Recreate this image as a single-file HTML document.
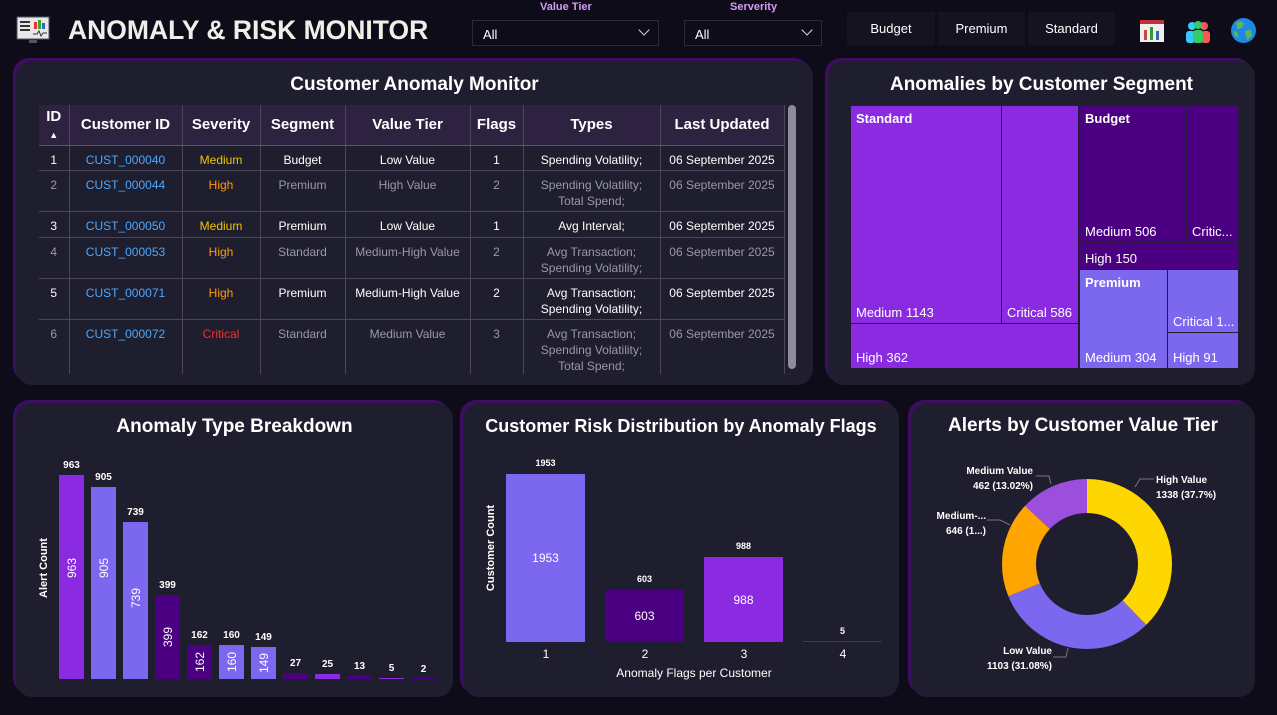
<!DOCTYPE html>
<html><head><meta charset="utf-8"><style>
*{box-sizing:border-box;margin:0;padding:0}
body{width:1277px;height:715px;background:#0d0c18;font-family:"Liberation Sans",sans-serif;color:#fff;position:relative;overflow:hidden}
.abs{position:absolute}
.panel{position:absolute;background:#1f1e2e;border-radius:16px;box-shadow:-3px -3px 0 #3b0f5e}
.title{position:absolute;left:0;right:0;text-align:center;font-weight:bold;font-size:19px}
.dd{position:absolute;border:1px solid #2a2a38;background:#0d0c18;font-size:13px;padding:6px 10px;height:26px}
.dd:after{content:"";position:absolute;right:10px;top:5px;width:7px;height:7px;border-right:1.5px solid #ddd;border-bottom:1.5px solid #ddd;transform:rotate(45deg)}
.lbl{position:absolute;font-size:11px;font-weight:bold;color:#d79bf5}
.btn{position:absolute;top:12px;height:33px;background:#14131f;font-size:13px;text-align:center;line-height:33px}
table{border-collapse:collapse;position:absolute;left:39px;top:105px;font-size:12px}
td,th{border-right:1px solid #4a4858;text-align:center;vertical-align:top}
th{background:#2d2340;font-size:15px;height:40px;vertical-align:middle;border-bottom:1px solid #6a4a7a}
td{border-bottom:1px solid #4a4858;padding-top:6px;line-height:16px}
tr.d td{color:#9a99a6}
.cid{color:#4aa8ff!important}.med{color:#f2c200!important}.hi{color:#ff9d00!important}.cr{color:#ff2a2a!important}
.tm{position:absolute;border:1px solid #2a1a3a;font-size:13px}
.tm b{position:absolute;left:5px;top:5px;font-size:13px}
.tm span{position:absolute;left:5px;bottom:3px}
</style></head><body>
<!-- header -->
<svg class="abs" style="left:16px;top:16px" width="34" height="30"><rect x="1" y="1" width="32" height="22" fill="#e8e8e8" stroke="#556" /><rect x="4" y="5" width="10" height="2" fill="#333"/><rect x="4" y="9" width="10" height="2" fill="#333"/><rect x="4" y="13" width="10" height="2" fill="#333"/><rect x="18" y="6" width="3" height="7" fill="#e33"/><rect x="22" y="4" width="3" height="9" fill="#3a3"/><rect x="26" y="7" width="3" height="6" fill="#36c"/><polyline points="17,18 21,18 23,15 25,20 27,17 31,17" stroke="#333" fill="none"/><rect x="13" y="24" width="8" height="3" fill="#556"/></svg>
<div class="abs" style="left:68px;top:15px;font-size:26.5px;font-weight:bold;color:#f0eee8">ANOMALY &amp; RISK MONITOR</div>
<div class="lbl" style="left:540px;top:1px">Value Tier</div>
<div class="dd" style="left:472px;top:20px;width:187px">All</div>
<div class="lbl" style="left:730px;top:1px">Serverity</div>
<div class="dd" style="left:684px;top:20px;width:138px">All</div>
<div class="btn" style="left:847px;width:88px">Budget</div>
<div class="btn" style="left:938px;width:87px">Premium</div>
<div class="btn" style="left:1028px;width:87px">Standard</div>
<svg class="abs" style="left:1139px;top:18px" width="26" height="26"><rect x="1" y="2" width="24" height="22" fill="#eee"/><rect x="1" y="2" width="24" height="4" fill="#b33"/><rect x="5" y="12" width="3" height="10" fill="#c44"/><rect x="11" y="9" width="3" height="13" fill="#393"/><rect x="17" y="13" width="3" height="9" fill="#36a"/></svg>
<svg class="abs" style="left:1184px;top:18px" width="28" height="26"><circle cx="8" cy="8" r="4" fill="#3cf"/><circle cx="20" cy="8" r="4" fill="#f55"/><circle cx="14" cy="7" r="4" fill="#3c6"/><rect x="2" y="13" width="9" height="12" rx="3" fill="#3cf"/><rect x="17" y="13" width="9" height="12" rx="3" fill="#f55"/><rect x="9" y="12" width="10" height="13" rx="3" fill="#3c6"/></svg>
<svg class="abs" style="left:1230px;top:17px" width="27" height="27"><circle cx="13.5" cy="13.5" r="12.5" fill="#1e88e5"/><path d="M6 6 Q10 3 14 6 L12 11 L7 12Z M15 14 L21 13 L22 19 L17 23 Z M3 14 L7 15 L9 21 L5 19Z" fill="#5cb85c"/></svg>

<!-- table panel -->
<div class="panel" style="left:16px;top:61px;width:797px;height:324px">
<div class="title" style="top:13px">Customer Anomaly Monitor</div>
</div>
<table>
<tr><th style="width:30px">ID<br><span style="font-size:9px">▲</span></th><th style="width:113px">Customer ID</th><th style="width:78px">Severity</th><th style="width:85px">Segment</th><th style="width:125px">Value Tier</th><th style="width:53px">Flags</th><th style="width:137px">Types</th><th style="width:124px">Last Updated</th></tr>
<tr style="height:25px"><td>1</td><td class="cid">CUST_000040</td><td class="med">Medium</td><td>Budget</td><td>Low Value</td><td>1</td><td>Spending Volatility;</td><td>06 September 2025</td></tr>
<tr class="d" style="height:41px"><td>2</td><td class="cid">CUST_000044</td><td class="hi">High</td><td>Premium</td><td>High Value</td><td>2</td><td>Spending Volatility;<br>Total Spend;</td><td>06 September 2025</td></tr>
<tr style="height:26px"><td>3</td><td class="cid">CUST_000050</td><td class="med">Medium</td><td>Premium</td><td>Low Value</td><td>1</td><td>Avg Interval;</td><td>06 September 2025</td></tr>
<tr class="d" style="height:41px"><td>4</td><td class="cid">CUST_000053</td><td class="hi">High</td><td>Standard</td><td>Medium-High Value</td><td>2</td><td>Avg Transaction;<br>Spending Volatility;</td><td>06 September 2025</td></tr>
<tr style="height:41px"><td>5</td><td class="cid">CUST_000071</td><td class="hi">High</td><td>Premium</td><td>Medium-High Value</td><td>2</td><td>Avg Transaction;<br>Spending Volatility;</td><td>06 September 2025</td></tr>
<tr class="d" style="height:50px"><td style="border-bottom:none">6</td><td class="cid" style="border-bottom:none">CUST_000072</td><td class="cr" style="border-bottom:none">Critical</td><td style="border-bottom:none">Standard</td><td style="border-bottom:none">Medium Value</td><td style="border-bottom:none">3</td><td style="border-bottom:none">Avg Transaction;<br>Spending Volatility;<br>Total Spend;</td><td style="border-bottom:none">06 September 2025</td></tr>
</table>
<div class="abs" style="left:788px;top:105px;width:8px;height:264px;background:#8e8c98;border-radius:4px"></div>

<!-- treemap -->
<div class="panel" style="left:828px;top:61px;width:427px;height:324px">
<div class="title" style="top:13px">Anomalies by Customer Segment</div>
</div>
<div class="tm" style="left:850px;top:105px;width:152px;height:219px;background:#8a2be2"><b>Standard</b><span>Medium 1143</span></div>
<div class="tm" style="left:1001px;top:105px;width:78px;height:219px;background:#8a2be2"><span>Critical 586</span></div>
<div class="tm" style="left:850px;top:323px;width:229px;height:46px;background:#8a2be2"><span>High 362</span></div>
<div class="tm" style="left:1079px;top:105px;width:108px;height:138px;background:#4b0082"><b>Budget</b><span>Medium 506</span></div>
<div class="tm" style="left:1186px;top:105px;width:53px;height:138px;background:#4b0082"><span>Critic...</span></div>
<div class="tm" style="left:1079px;top:242px;width:160px;height:28px;background:#4b0082"><span>High 150</span></div>
<div class="tm" style="left:1079px;top:269px;width:89px;height:100px;background:#7b68ee"><b>Premium</b><span>Medium 304</span></div>
<div class="tm" style="left:1167px;top:269px;width:72px;height:64px;background:#7b68ee"><span>Critical 1...</span></div>
<div class="tm" style="left:1167px;top:332px;width:72px;height:37px;background:#7b68ee"><span>High 91</span></div>

<!-- bottom panels -->
<div class="panel" style="left:16px;top:403px;width:437px;height:294px"><div class="title" style="top:13px">Anomaly Type Breakdown</div></div>
<div class="panel" style="left:463px;top:403px;width:436px;height:294px"><div class="title" style="top:13px;font-size:18px">Customer Risk Distribution by Anomaly Flags</div></div>
<div class="panel" style="left:911px;top:403px;width:344px;height:294px"><div class="title" style="top:12px">Alerts by Customer Value Tier</div></div>

<svg class="abs" style="left:0;top:0" width="1277" height="715" font-family="Liberation Sans, sans-serif">
<text transform="translate(47,568) rotate(-90)" text-anchor="middle" font-size="11" font-weight="bold" fill="#fff">Alert Count</text>
<g font-size="10" font-weight="bold" fill="#fff" text-anchor="middle">
<rect x="59" y="475" width="25" height="204" fill="#8a2be2"/><text x="71.5" y="468">963</text>
<rect x="91" y="487" width="25" height="192" fill="#7b68ee"/><text x="103.5" y="480">905</text>
<rect x="123" y="522" width="25" height="157" fill="#7b68ee"/><text x="135.5" y="515">739</text>
<rect x="155" y="595" width="25" height="84" fill="#4b0082"/><text x="167.5" y="588">399</text>
<rect x="187" y="645" width="25" height="34" fill="#4b0082"/><text x="199.5" y="638">162</text>
<rect x="219" y="645" width="25" height="34" fill="#7b68ee"/><text x="231.5" y="638">160</text>
<rect x="251" y="647" width="25" height="32" fill="#7b68ee"/><text x="263.5" y="640">149</text>
<rect x="283" y="673" width="25" height="6" fill="#4b0082"/><text x="295.5" y="666">27</text>
<rect x="315" y="674" width="25" height="5" fill="#8a2be2"/><text x="327.5" y="667">25</text>
<rect x="347" y="676" width="25" height="3" fill="#4b0082"/><text x="359.5" y="669">13</text>
<rect x="379" y="678" width="25" height="1" fill="#8a2be2"/><text x="391.5" y="671">5</text>
<rect x="411" y="678" width="25" height="1" fill="#4b0082"/><text x="423.5" y="672">2</text>
</g>
<g font-size="12" fill="#fff" text-anchor="middle">
<text transform="translate(76,568) rotate(-90)">963</text>
<text transform="translate(108,568) rotate(-90)">905</text>
<text transform="translate(140,598) rotate(-90)">739</text>
<text transform="translate(172,637) rotate(-90)">399</text>
<text transform="translate(204,662) rotate(-90)">162</text>
<text transform="translate(236,662) rotate(-90)">160</text>
<text transform="translate(268,663) rotate(-90)">149</text>
</g>

<text transform="translate(494,548) rotate(-90)" text-anchor="middle" font-size="11" font-weight="bold" fill="#fff">Customer Count</text>
<g text-anchor="middle">
<rect x="506" y="474" width="79" height="168" fill="#7b68ee"/>
<rect x="605" y="590" width="79" height="52" fill="#4b0082"/>
<rect x="704" y="557" width="79" height="85" fill="#8a2be2"/>
<rect x="803" y="641" width="79" height="1" fill="#4b2a8a"/>
<g font-size="9" font-weight="bold" fill="#fff"><text x="545.5" y="466">1953</text><text x="644.5" y="582">603</text><text x="743.5" y="549">988</text><text x="842.5" y="634">5</text></g>
<g font-size="12" fill="#fff"><text x="545.5" y="562">1953</text><text x="644.5" y="620">603</text><text x="743.5" y="604">988</text></g>
<g font-size="12" fill="#fff"><text x="546" y="658">1</text><text x="645" y="658">2</text><text x="744" y="658">3</text><text x="843" y="658">4</text></g>
<text x="694" y="677" font-size="12" fill="#fff">Anomaly Flags per Customer</text>
</g>

<g transform="translate(1087,564) rotate(-90)" fill="none" stroke-width="34">
<circle r="68" stroke="#ffd700" stroke-dasharray="161.08 500"/>
<circle r="68" stroke="#7b68ee" stroke-dasharray="0 161.08 132.79 500"/>
<circle r="68" stroke="#ffa500" stroke-dasharray="0 293.87 77.76 500"/>
<circle r="68" stroke="#9b4fdc" stroke-dasharray="0 371.63 55.63 500"/>
</g>
<g stroke="#777" fill="none"><polyline points="1135,487 1140,479 1154,479"/><polyline points="1051,484 1049,476 1036,476"/><polyline points="1010,525 1000,520 987,520"/><polyline points="1068,648 1066,657 1053,657"/></g>
<g font-size="10" font-weight="bold" fill="#fff">
<text x="1156" y="483">High Value</text><text x="1156" y="498">1338 (37.7%)</text>
<text x="1033" y="474" text-anchor="end">Medium Value</text><text x="1033" y="489" text-anchor="end">462 (13.02%)</text>
<text x="986" y="519" text-anchor="end">Medium-...</text><text x="986" y="534" text-anchor="end">646 (1...)</text>
<text x="1052" y="654" text-anchor="end">Low Value</text><text x="1052" y="669" text-anchor="end">1103 (31.08%)</text>
</g>
</svg>
</body></html>
